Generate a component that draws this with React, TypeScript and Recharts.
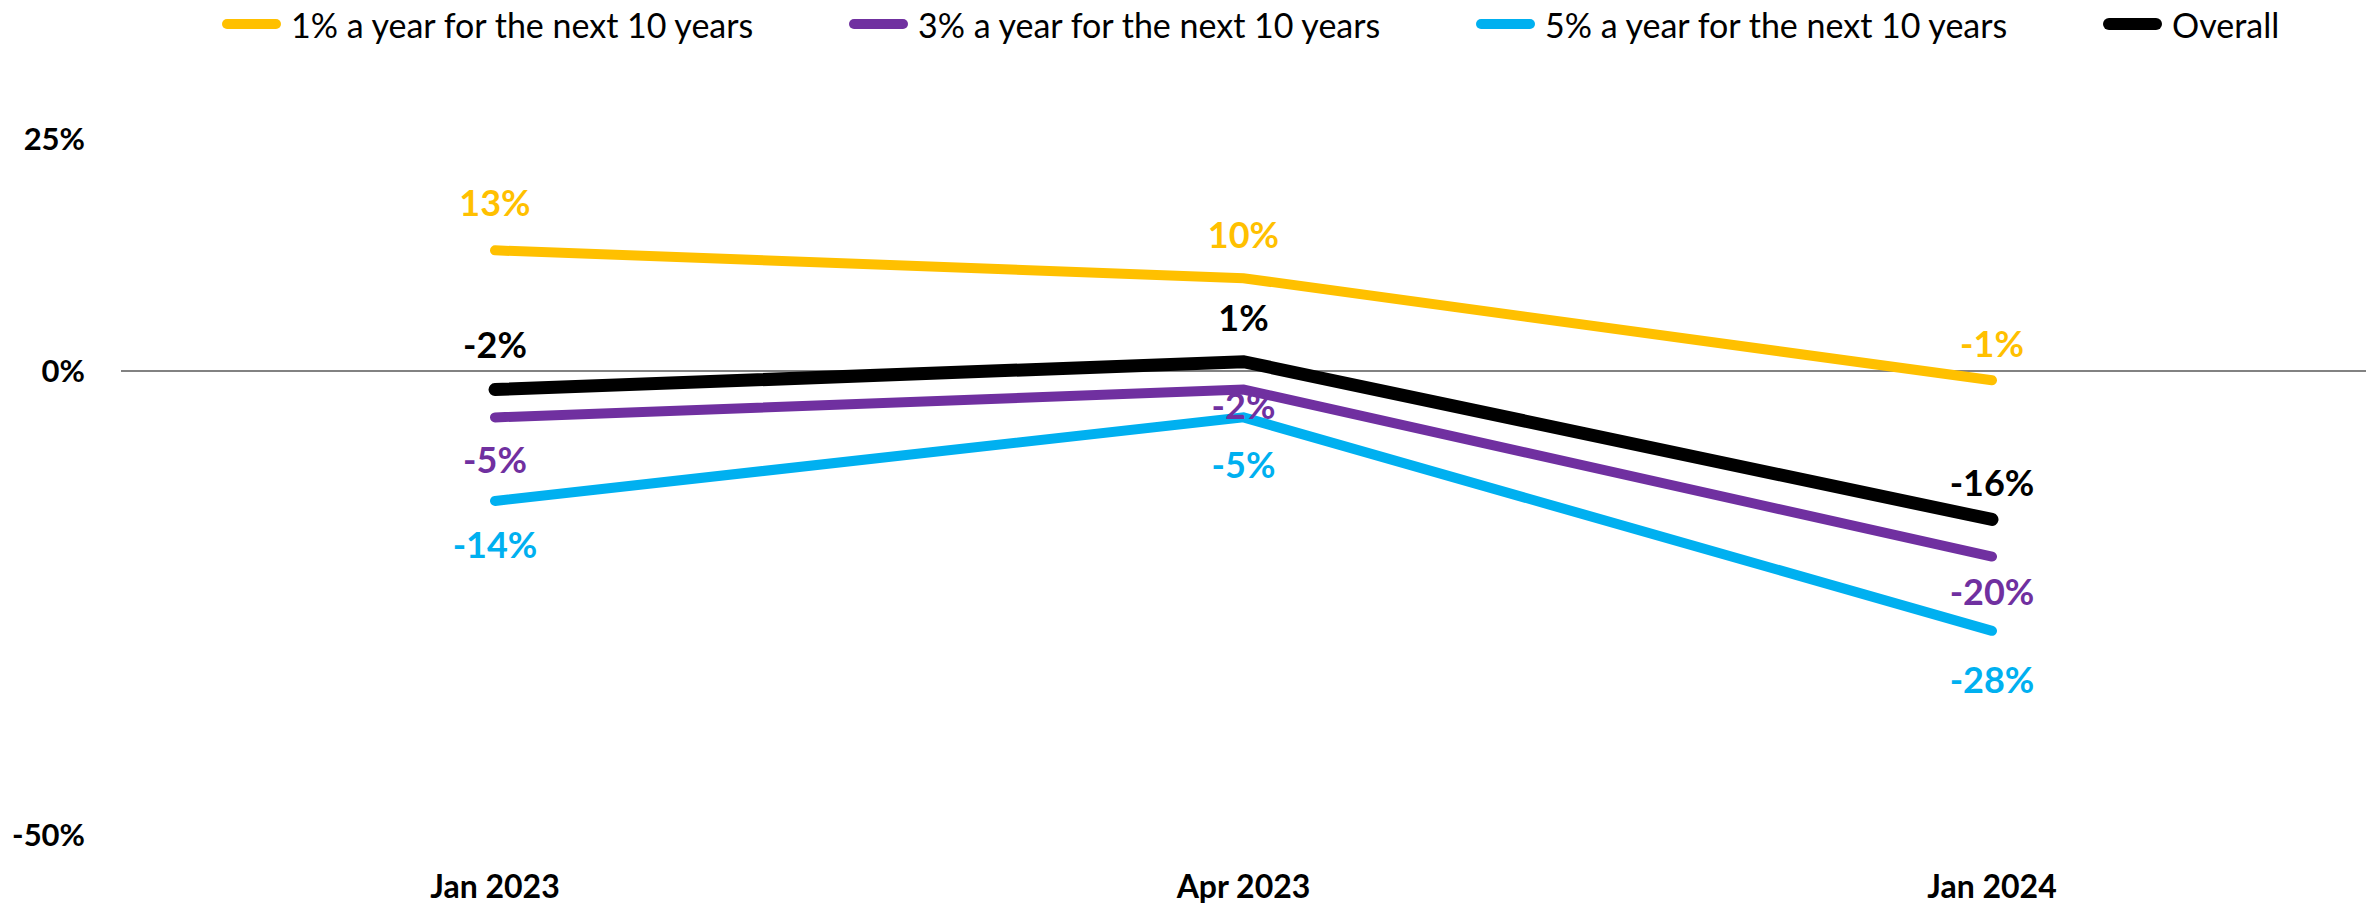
import React from 'react';
import { LineChart, Line, XAxis, YAxis, ReferenceLine, LabelList } from 'recharts';

// values (percent change)
const periods = ['Jan 2023', 'Apr 2023', 'Jan 2024'];
const onePct = [13, 10, -1];
const threePct = [-5, -2, -20];
const fivePct = [-14, -5, -28];
const overall = [-2, 1, -16];
const yTicks = [-50, 0, 25];

const FONT = 'Lato, "Open Sans", sans-serif';

const series = [
  { key: 'one', name: '1% a year for the next 10 years', values: onePct, color: '#FFC000', width: 10 },
  { key: 'three', name: '3% a year for the next 10 years', values: threePct, color: '#7030A0', width: 10 },
  { key: 'five', name: '5% a year for the next 10 years', values: fivePct, color: '#00B0F0', width: 10 },
  { key: 'overall', name: 'Overall', values: overall, color: '#000000', width: 13 },
];

// draw order: blue under purple so the purple -2% label sits on top
const drawOrder = ['one', 'five', 'three', 'overall'];

// label nudges (px) per point, as placed in the original
const labelDy: Record<string, number[]> = {
  one: [-47, -43, -36],
  three: [43, 16, 35],
  five: [44, 48, 49],
  overall: [-45, -44, -36],
};

const data = periods.map((period, i) => {
  const row: Record<string, string | number> = { period };
  for (const s of series) row[s.key] = s.values[i];
  return row;
});

const makeLabel = (key: string, color: string) => (props: any) => {
  const { x, y, value, index } = props;
  if (x == null || y == null) return null;
  return (
    <text
      x={x}
      y={y + labelDy[key][index]}
      dy="0.36em"
      textAnchor="middle"
      fill={color}
      fontSize={36}
      fontWeight={700}
      fontFamily={FONT}
    >
      {`${value}%`}
    </text>
  );
};

const LegendRow = () => (
  <div
    style={{
      position: 'absolute',
      top: 0,
      left: 222,
      height: 48,
      display: 'flex',
      alignItems: 'center',
      fontFamily: FONT,
      fontSize: 34,
      color: '#000',
      whiteSpace: 'nowrap',
    }}
  >
    {series.map((s, i) => (
      <div key={s.key} style={{ display: 'flex', alignItems: 'center', width: i < series.length - 1 ? 627 : undefined }}>
        <span
          style={{
            display: 'inline-block',
            width: 59,
            height: s.key === 'overall' ? 12 : 10,
            borderRadius: 6,
            background: s.color,
            marginRight: 10,
          }}
        />
        <span>{s.name}</span>
      </div>
    ))}
  </div>
);

export default function App() {
  return (
    <div style={{ position: 'absolute', left: 0, top: 0, width: 2374, height: 904, background: '#fff' }}>
      <LegendRow />
      <LineChart width={2374} height={904} data={data} margin={{ top: 139, right: 8, bottom: 9, left: 21 }}>
        <XAxis
          dataKey="period"
          axisLine={false}
          tickLine={false}
          tickSize={0}
          tickMargin={40}
          height={60}
          interval={0}
          padding={{ left: 374, right: 374 }}
          tick={{ fill: '#000', fontSize: 32, fontWeight: 700, fontFamily: FONT }}
        />
        <YAxis
          type="number"
          domain={[-50, 25]}
          ticks={yTicks}
          width={100}
          axisLine={false}
          tickLine={false}
          tickSize={0}
          tickMargin={36}
          tickFormatter={(v: number) => `${v}%`}
          tick={{ fill: '#000', fontSize: 31, fontWeight: 700, fontFamily: FONT }}
        />
        <ReferenceLine y={0} stroke="#595959" strokeWidth={1.5} />
        {drawOrder.map((k) => {
          const s = series.find((x) => x.key === k)!;
          return (
            <Line
              key={s.key}
              type="linear"
              dataKey={s.key}
              name={s.name}
              stroke={s.color}
              strokeWidth={s.width}
              strokeLinecap="round"
              dot={false}
              activeDot={false}
              isAnimationActive={false}
            >
              <LabelList dataKey={s.key} content={makeLabel(s.key, s.color)} />
            </Line>
          );
        })}
      </LineChart>
    </div>
  );
}
